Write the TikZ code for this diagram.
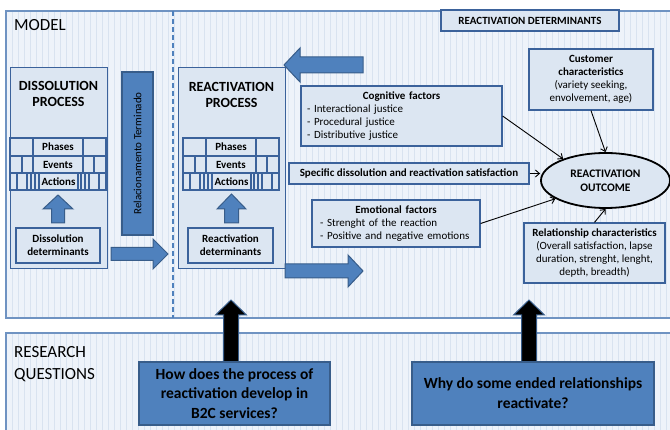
\documentclass[tikz,border=0pt]{standalone}
\usepackage{fontspec}
\setmainfont{Carlito}
\usetikzlibrary{shapes.geometric,arrows.meta}

\definecolor{panelfill}{HTML}{EEF3FA}
\definecolor{gridcol}{HTML}{D9E3F0}
\definecolor{panelline}{HTML}{6F93C2}
\definecolor{boxfill}{HTML}{DCE6F2}
\definecolor{boxline}{HTML}{3B629B}
\definecolor{arrowfill}{HTML}{4F81BD}
\definecolor{arrowline}{HTML}{385D8A}

\tikzset{
  panel/.style={draw=panelline, line width=1.2pt},
  gridline/.style={draw=gridcol, line width=0.4pt},
  box/.style={draw=boxline, fill=boxfill, line width=1.2pt, inner sep=2pt, align=center},
  darkbox/.style={draw=arrowline, fill=arrowfill, line width=1.2pt, inner sep=2pt, align=center},
  stagelabel/.style={draw=boxline, fill=boxfill, line width=1.2pt, inner sep=0pt,
    font=\fontsize{11}{13}\selectfont\bfseries},
  tableline/.style={draw=boxline, line width=1.2pt},
  factor/.style={-{Straight Barb[length=4pt,width=7pt]}, line width=0.9pt},
  bluearrow/.style={fill=arrowfill, draw=arrowline, line width=1pt},
  blackarrow/.style={fill=black, draw=arrowline, line width=1pt},
  pics/blockarrow/.style args={#1/#2/#3/#4}{code={
    \path[pic actions] (0,-#2) -- ({#1-#4},-#2) -- ({#1-#4},-#3) -- (#1,0)
      -- ({#1-#4},#3) -- ({#1-#4},#2) -- (0,#2) -- cycle;}}
}

% phases / events / actions table, #1 = left x, #2 = name prefix
\newcommand{\stagetable}[2]{%
  \begin{scope}[shift={(#1,0)}]
    \draw[tableline] (0,138) rectangle (96,190);
    \draw[tableline] (0,156) -- (96,156) (0,173) -- (96,173);
    \foreach \xx in {12,84} \draw[tableline] (\xx,156) -- (\xx,173);
    \foreach \xx in {7,17,21,25,71,75,79,89} \draw[tableline] (\xx,173) -- (\xx,190);
    \node[stagelabel, minimum width=50, minimum height=18] (#2phases) at (48,147) {Phases};
    \node[stagelabel, minimum width=50, minimum height=17] (#2events) at (48,164.5) {Events};
    \node[stagelabel, minimum width=39, minimum height=17] (#2actions) at (48.5,181.5) {Actions};
  \end{scope}}

\begin{document}
\begin{tikzpicture}[x=1pt,y=-1pt,font=\fontsize{11}{13}\selectfont]
\useasboundingbox (0,0) rectangle (670,430);
\fill[white] (0,0) rectangle (670,430);

% the two panels with their grid
\begin{scope}
  \clip (0,0) rectangle (670,430);
  \fill[panelfill] (6,11) rectangle (690,318);
  \fill[panelfill] (6,333) rectangle (690,450);
  \begin{scope}
    \clip (6,11) rectangle (690,318) (6,333) rectangle (690,450);
    \draw[gridline, step=6] (6,11) grid (690,450);
  \end{scope}
  \draw[panel] (6,11) rectangle (690,318);
  \draw[panel] (6,333) rectangle (690,450);
\end{scope}
\draw[draw=arrowfill, line width=1.2pt, dash pattern=on 5pt off 3pt] (173,11) -- (173,318);

\node[anchor=west, inner sep=0pt, font=\fontsize{17}{20}\selectfont] (modeltitle) at (14,25) {MODEL};
\node[anchor=west, inner sep=0pt, align=left, font=\fontsize{17}{22}\selectfont] (questiontitle)
  at (14,364) {RESEARCH\\QUESTIONS};
\node[box, minimum width=178, minimum height=21, font=\fontsize{11}{13}\selectfont\bfseries]
  (determinants) at (530,20.5) {REACTIVATION DETERMINANTS};

% dissolution side
\node[box, minimum width=97, minimum height=201, anchor=north west] (dissolution) at (10,67) {};
\node[align=center, font=\fontsize{14}{16}\selectfont\bfseries] (dissolutiontitle) at (58.5,93.5)
  {DISSOLUTION\\PROCESS};
\stagetable{10}{diss}
\pic[bluearrow, rotate=90] at (58,223) {blockarrow=28/6.5/15/14};
\node[box, minimum width=84, minimum height=35, font=\fontsize{11}{13}\selectfont\bfseries]
  (dissdet) at (58,245.5) {Dissolution\\determinants};
\node[darkbox, rotate=90, minimum width=163, minimum height=31] (ended) at (137.5,153.5)
  {Relacionamento Terminado};
\pic[bluearrow] at (111,254) {blockarrow=57/6.5/15/15};

% reactivation side
\node[box, minimum width=107, minimum height=201, anchor=north west] (reactivation) at (178,67) {};
\node[align=center, font=\fontsize{14}{16}\selectfont\bfseries] (reactivationtitle) at (231.5,95)
  {REACTIVATION\\PROCESS};
\stagetable{183}{react}
\pic[bluearrow, rotate=90] at (231.5,223) {blockarrow=29/7/14.5/15};
\node[box, minimum width=85, minimum height=35, font=\fontsize{11}{13}\selectfont\bfseries]
  (reactdet) at (230.5,245.5) {Reactivation\\determinants};
\pic[bluearrow, rotate=180] at (363,65) {blockarrow=79/8/17/16};
\pic[bluearrow] at (285,271) {blockarrow=78/7/16/15};

% determinants of the outcome
\node[box, minimum width=201, minimum height=60, text width=189, align=left] (cognitive) at (401.5,116)
  {{\centering\textbf{Cognitive factors}\par}- Interactional justice\\- Procedural justice\\- Distributive justice};
\node[box, minimum width=240, minimum height=21, font=\fontsize{11}{13}\selectfont\bfseries]
  (specific) at (409,173.5) {Specific dissolution and reactivation satisfaction};
\node[box, minimum width=168, minimum height=47, text width=152, align=left] (emotional) at (396,223.5)
  {{\centering\textbf{Emotional factors}\par}- Strenght of the reaction\\- Positive and negative emotions};
\node[box, minimum width=124, minimum height=61] (customer) at (591,79.5)
  {\textbf{Customer}\\\textbf{characteristics}\\(variety seeking,\\envolvement, age)};
\node[box, minimum width=141, minimum height=60] (relation) at (594.5,253)
  {\textbf{Relationship characteristics}\\(Overall satisfaction, lapse\\duration, strenght, lenght,\\depth, breadth)};
\node[ellipse, draw=black, fill=boxfill, line width=1.8pt, minimum width=129, minimum height=55,
  inner sep=0pt, align=center, font=\fontsize{11.5}{14}\selectfont\bfseries] (outcome) at (605.5,180.5)
  {REACTIVATION\\OUTCOME};
\draw[factor] (cognitive.east) -- (outcome.153);
\draw[factor] (specific.east) -- (specific.east -| outcome.west);
\draw[factor] (emotional.east) -- (outcome.200);
\draw[factor] (customer.south) -- (outcome.north);
\draw[factor] (relation.north) -- (outcome.south);

% research questions
\pic[blackarrow, rotate=90] at (231,362) {blockarrow=62/7.5/15.5/15};
\pic[blackarrow, rotate=90] at (529,362) {blockarrow=62/7.5/15.5/15};
\node[darkbox, minimum width=191, minimum height=63, font=\fontsize{15.5}{19.5}\selectfont\bfseries]
  (howquestion) at (234.5,393.5) {How does the process of\\reactivation develop in\\B2C services?};
\node[darkbox, minimum width=242, minimum height=63, font=\fontsize{15.5}{20}\selectfont\bfseries]
  (whyquestion) at (533,393.5) {Why do some ended relationships\\reactivate?};
\end{tikzpicture}
\end{document}
